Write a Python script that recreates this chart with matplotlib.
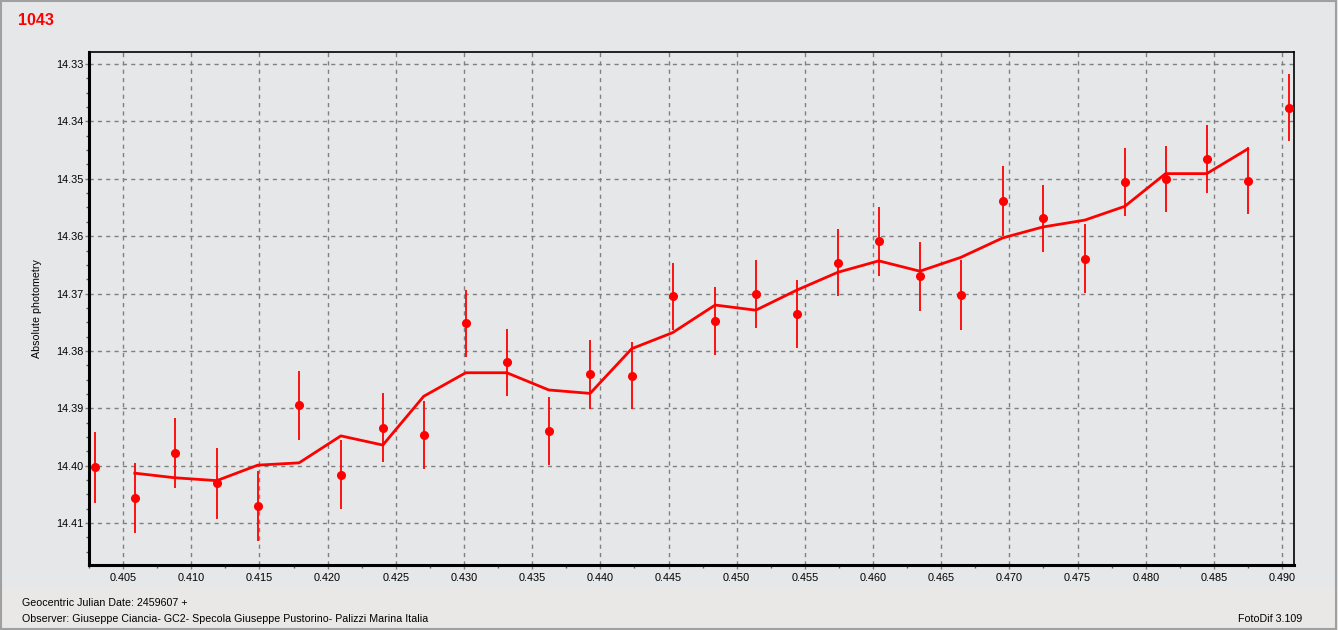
import matplotlib.pyplot as plt
from matplotlib.ticker import MultipleLocator, FormatStrFormatter

plt.rcParams['font.family'] = ['Liberation Sans', 'DejaVu Sans']

# data
jd = [0.40295, 0.40586, 0.40879, 0.41187, 0.41488, 0.41791, 0.42097, 0.42405,
      0.42705, 0.43013, 0.43314, 0.43622, 0.43925, 0.44231, 0.44531, 0.44842,
      0.45140, 0.45441, 0.45741, 0.46042, 0.46343, 0.46643, 0.46951, 0.47245,
      0.47553, 0.47846, 0.48145, 0.48447, 0.48748, 0.49049]
mag = [14.4003, 14.4056, 14.3977, 14.4031, 14.4071, 14.3895, 14.4016, 14.3934,
       14.3946, 14.3752, 14.3820, 14.3940, 14.3841, 14.3843, 14.3705, 14.3748,
       14.3701, 14.3735, 14.3646, 14.3609, 14.3670, 14.3703, 14.3538, 14.3569,
       14.3639, 14.3505, 14.3500, 14.3466, 14.3503, 14.3376]
err = [0.0062, 0.0061, 0.0061, 0.0061, 0.0061, 0.0060, 0.0060, 0.0060,
       0.0059, 0.0059, 0.0059, 0.0059, 0.0060, 0.0059, 0.0059, 0.0059,
       0.0059, 0.0059, 0.0059, 0.0060, 0.0060, 0.0061, 0.0061, 0.0059,
       0.0060, 0.0059, 0.0058, 0.0059, 0.0058, 0.0058]
# running mean line (from 2nd to 29th point)
mean_mag = [14.4013, 14.4021, 14.4026, 14.3999, 14.3995, 14.3948, 14.3964,
            14.3879, 14.3838, 14.3838, 14.3868, 14.3874, 14.3796, 14.3768,
            14.3720, 14.3729, 14.3694, 14.3663, 14.3643, 14.3661, 14.3637,
            14.3603, 14.3584, 14.3572, 14.3548, 14.3491, 14.3491, 14.3448]

bg = '#e6e7e9'
fig = plt.figure(figsize=(13.38, 6.30), dpi=100, facecolor=bg)

# slightly warmer status strip at the bottom
fig.patches.append(plt.Rectangle((0, 0), 1, 0.068, transform=fig.transFigure,
                                 facecolor='#e9e8e6', edgecolor='none', zorder=0))

ax = fig.add_axes([0.0665, 0.1032, 0.9005, 0.8143])
ax.set_facecolor(bg)

ax.errorbar(jd, mag, yerr=err, fmt='o', color='#ff0000', ecolor='#ff0000',
            elinewidth=1.3, markersize=5.5, capsize=0, zorder=3)
ax.plot(jd[1:29], mean_mag, color='#ff0000', lw=2, zorder=3)

ax.set_xlim(0.4025, 0.49086)
ax.set_ylim(14.4173, 14.3279)
ax.xaxis.set_major_locator(MultipleLocator(0.005))
ax.xaxis.set_minor_locator(MultipleLocator(0.0025))
ax.yaxis.set_major_locator(MultipleLocator(0.01))
ax.yaxis.set_minor_locator(MultipleLocator(0.0025))
ax.xaxis.set_major_formatter(FormatStrFormatter('%.3f'))
ax.yaxis.set_major_formatter(FormatStrFormatter('%.2f'))

ax.grid(True, which='major', color='#808080', linestyle=(0, (3, 3)), lw=1)
ax.set_axisbelow(True)
ax.tick_params(which='major', length=3, width=1, color='#808080', labelsize=7.8)
ax.tick_params(axis='y', which='major', pad=1)
ax.tick_params(axis='x', which='major', pad=3)
ax.tick_params(which='minor', length=2, width=1, color='#606060')

for side in ['left', 'bottom']:
    ax.spines[side].set_linewidth(2.2)
for side in ['top', 'right']:
    ax.spines[side].set_linewidth(1.2)

ax.set_ylabel('Absolute photometry', fontsize=7.7, labelpad=10)

fig.text(0.0135, 0.960, '1043', color='#ff0000', fontsize=11.5, fontweight='bold')
fig.text(0.0165, 0.0386, 'Geocentric Julian Date: 2459607 +', fontsize=7.7)
fig.text(0.0165, 0.0132, 'Observer: Giuseppe Ciancia- GC2- Specola Giuseppe Pustorino- Palizzi Marina Italia',
         fontsize=7.7)
fig.text(0.973, 0.0132, 'FotoDif 3.109', fontsize=7.7, ha='right')

# outer frame
fig.patches.append(plt.Rectangle((0.0008, 0.0016), 0.9975, 0.9968, transform=fig.transFigure,
                                 fill=False, edgecolor='#a0a0a0', lw=1.5))

fig.savefig('out.png', dpi=100, facecolor=bg)
